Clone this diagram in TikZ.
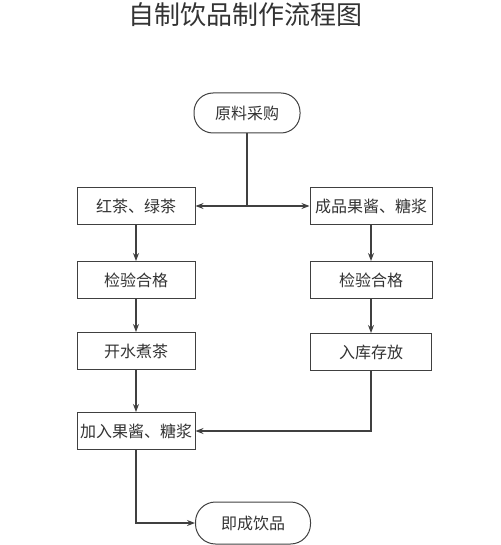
\documentclass[tikz,border=0pt]{standalone}
\usepackage{fontspec}
\setmainfont{Noto Sans CJK SC}
\usetikzlibrary{arrows.meta,positioning}
\definecolor{flowline}{HTML}{404040}
\definecolor{flowtext}{HTML}{333333}

\begin{document}
\begin{tikzpicture}[
    x=1pt, y=1pt,
    every node/.style={align=center, font=\fontsize{16}{18}\selectfont, text=flowtext},
    box/.style={draw=flowline, line width=1pt, minimum width=118pt, minimum height=37pt, inner sep=1pt},
    term/.style={draw=flowline, line width=1pt, rounded corners=19pt, minimum width=106pt, minimum height=40pt},
    arrow/.style={-{Stealth[length=8pt,width=6pt]}, line width=1.2pt, flowline}
]
    \useasboundingbox (0,0) rectangle (500,-545);
    \node[font=\fontsize{26}{30}\selectfont] (title) at (245,-15) {自制饮品制作流程图};

    \node[term] (buy) at (247,-113) {原料采购};
    \node[box] (tea) at (136,-206) {红茶、绿茶};
    \node[box, minimum width=122pt] (jam) at (371,-206) {成品果酱、糖浆};

    % left branch
    \node[box, below=36pt of tea] (check1) {检验合格};
    \node[box, below=33pt of check1] (boil) {开水煮茶};
    \node[box, below=42pt of boil] (mix) {加入果酱、糖浆};
    \node[term, minimum width=115pt, minimum height=42pt, rounded corners=20pt] (done) at (253,-523) {即成饮品};

    % right branch
    \node[box, minimum width=122pt, below=36pt of jam] (check2) {检验合格};
    \node[box, minimum width=121pt, below=34pt of check2] (store) {入库存放};

    \coordinate (split) at (buy.south |- tea.east);
    \draw[line width=1.2pt, flowline] (buy) -- (split);
    \draw[arrow] (split) -- (tea);
    \draw[arrow] (split) -- (jam);
    \draw[arrow] (tea) -- (check1);
    \draw[arrow] (check1) -- (boil);
    \draw[arrow] (boil) -- (mix);
    \draw[arrow] (jam) -- (check2);
    \draw[arrow] (check2) -- (store);
    \draw[arrow] (store) |- (mix);
    \draw[arrow] (mix) |- (done);
\end{tikzpicture}
\end{document}
